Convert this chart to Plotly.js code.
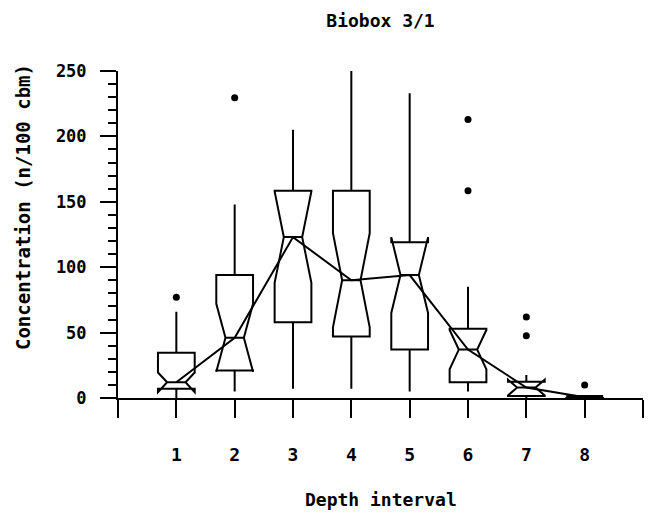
<!DOCTYPE html>
<html>
<head>
<meta charset="utf-8">
<script src="https://cdn.plot.ly/plotly-3.0.1.min.js"></script>
<style>
  html, body { margin: 0; padding: 0; background: #ffffff; }
  #chart { width: 655px; height: 519px; }
</style>
</head>
<body>
<div id="chart"></div>
<script>
// Depth intervals
const depth = [1, 2, 3, 4, 5, 6, 7, 8];
// Box statistics (n/100 cbm)
const lowerFence = [0, 5, 7, 7, 5, 5, 0, 0];
const q1 = [7, 21, 58, 47, 37, 12, 1.5, 0];
const median = [12, 46, 123, 90, 94, 37, 8, 0.5];
const q3 = [34.5, 94, 158.5, 158.5, 119, 53, 12.5, 1.5];
const upperFence = [66, 148, 205, 250, 233, 85, 17.5, 1.5];
const notchSpan = [7.5, 26, 35, 36, 29, 15, 6, 1];
// Outliers
const outlierX = [1, 2, 6, 6, 7, 7, 8];
const outlierY = [77, 229.5, 213, 158.5, 62, 47.5, 10];
// Axis tick labels
const xTickVals = [0, 1, 2, 3, 4, 5, 6, 7, 8, 9];
const xTickText = ['', '1', '2', '3', '4', '5', '6', '7', '8', ''];

const FONT = 'DejaVu Sans Mono, Liberation Mono, monospace';

const traces = [
  {
    type: 'box',
    x: depth,
    q1: q1,
    median: median,
    q3: q3,
    lowerfence: lowerFence,
    upperfence: upperFence,
    notchspan: notchSpan,
    notched: true,
    notchwidth: 0.25,
    boxpoints: false,
    width: 0.63,
    whiskerwidth: 0,
    line: { color: '#000000', width: 2 },
    fillcolor: 'rgba(0,0,0,0)',
    showlegend: false,
    hoverinfo: 'skip'
  },
  {
    type: 'scatter',
    mode: 'lines',
    x: depth,
    y: median,
    line: { color: '#000000', width: 2 },
    showlegend: false,
    hoverinfo: 'skip'
  },
  {
    type: 'scatter',
    mode: 'markers',
    x: outlierX,
    y: outlierY,
    marker: { color: '#000000', size: 7, symbol: 'circle' },
    showlegend: false,
    hoverinfo: 'skip'
  }
];

const layout = {
  width: 655,
  height: 519,
  margin: { l: 118, r: 12, t: 71, b: 121 },
  paper_bgcolor: '#ffffff',
  plot_bgcolor: '#ffffff',
  font: { family: FONT, size: 17, color: '#000000', weight: 'bold' },
  title: {
    text: 'Biobox 3/1',
    font: { family: FONT, size: 18, color: '#000000', weight: 'bold' },
    xref: 'paper', x: 0.5, xanchor: 'center',
    yref: 'container', y: 0.961, yanchor: 'middle'
  },
  xaxis: {
    range: [0, 9],
    tickmode: 'array',
    tickvals: xTickVals,
    ticktext: xTickText,
    ticks: 'outside',
    ticklen: 18,
    tickwidth: 2,
    tickcolor: '#000000',
    ticklabelstandoff: 21,
    showline: true,
    linewidth: 2,
    linecolor: '#000000',
    showgrid: false,
    zeroline: false,
    tickfont: { family: FONT, size: 18, color: '#000000', weight: 'bold' }
  },
  yaxis: {
    range: [0, 250],
    tickmode: 'linear',
    tick0: 0,
    dtick: 50,
    ticks: 'outside',
    ticklen: 16,
    tickwidth: 2,
    tickcolor: '#000000',
    ticklabelstandoff: 10,
    minor: { dtick: 10, ticks: 'outside', ticklen: 8, tickwidth: 2, tickcolor: '#000000', showgrid: false },
    showline: true,
    linewidth: 2,
    linecolor: '#000000',
    showgrid: false,
    zeroline: false,
    tickfont: { family: FONT, size: 17, color: '#000000', weight: 'bold' }
  },
  annotations: [
    {
      text: 'Concentration (n/100 cbm)',
      textangle: -90,
      xref: 'paper', yref: 'paper',
      x: -0.181, y: 0.584,
      xanchor: 'center', yanchor: 'middle',
      showarrow: false,
      font: { family: FONT, size: 19, color: '#000000', weight: 'bold' }
    },
    {
      text: 'Depth interval',
      xref: 'paper', yref: 'paper',
      x: 0.5, y: -0.309,
      xanchor: 'center', yanchor: 'middle',
      showarrow: false,
      font: { family: FONT, size: 18, color: '#000000', weight: 'bold' }
    }
  ]
};

Plotly.newPlot('chart', traces, layout, { displayModeBar: false, staticPlot: true });
</script>
</body>
</html>
